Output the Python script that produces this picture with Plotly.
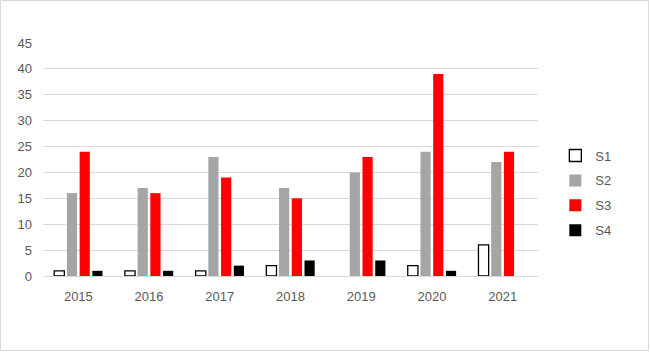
import plotly.graph_objects as go

years = ["2015", "2016", "2017", "2018", "2019", "2020", "2021"]
s1 = [1, 1, 1, 2, 0, 2, 6]
s2 = [16, 17, 23, 17, 20, 24, 22]
s3 = [24, 16, 19, 15, 23, 39, 24]
s4 = [1, 1, 2, 3, 3, 1, 0]
names = ["S1", "S2", "S3", "S4"]
y_ticks = [0, 5, 10, 15, 20, 25, 30, 35, 40, 45]

W, H = 650, 352
ml, mr, mt, mb = 43, 112, 43, 76

fig = go.Figure()
s1_line_w = [1.3 if v > 0 else 0 for v in s1]
styles = [
    dict(color="white", line=dict(color="black", width=s1_line_w)),
    dict(color="#a5a5a5", line=dict(width=0)),
    dict(color="#ff0000", line=dict(width=0)),
    dict(color="black", line=dict(width=0)),
]
for i, (nm, vals) in enumerate(zip(names, [s1, s2, s3, s4])):
    fig.add_trace(go.Bar(x=years, y=vals, name=nm, marker=styles[i],
                         legendgroup=nm))

pw = W - ml - mr
ph = H - mt - mb
fig.add_shape(type="rect", xref="paper", yref="paper",
              x0=(0.5 - ml) / pw, x1=(W - 1.5 - ml) / pw,
              y0=-(H - 1.5 - mt - ph) / ph, y1=(ph + mt - 0.5) / ph,
              line=dict(color="#d9d9d9", width=1), layer="below")

fig.update_layout(
    width=W, height=H,
    margin=dict(l=ml, r=mr, t=mt, b=mb),
    paper_bgcolor="white", plot_bgcolor="white",
    font=dict(family="Liberation Sans, Arial", size=13, color="#595959"),
    barmode="group", bargap=0.28, bargroupgap=0.2,
    showlegend=True,
    legend=dict(x=1.035, y=0.356, xanchor="left", yanchor="middle",
                tracegroupgap=5, font=dict(size=13, color="#595959"),
                itemwidth=30),
    xaxis=dict(showgrid=False, showline=True, linecolor="#d9d9d9",
               linewidth=1, ticks="", tickfont=dict(size=13),
               ticklabelstandoff=8),
    yaxis=dict(range=[0, 45], tickvals=y_ticks, showgrid=True,
               gridcolor="#d9d9d9", gridwidth=1, zeroline=False,
               showline=False, ticks="", ticklen=0,
               tickfont=dict(size=13), ticklabelstandoff=10),
)
fig.write_html("out.html")
